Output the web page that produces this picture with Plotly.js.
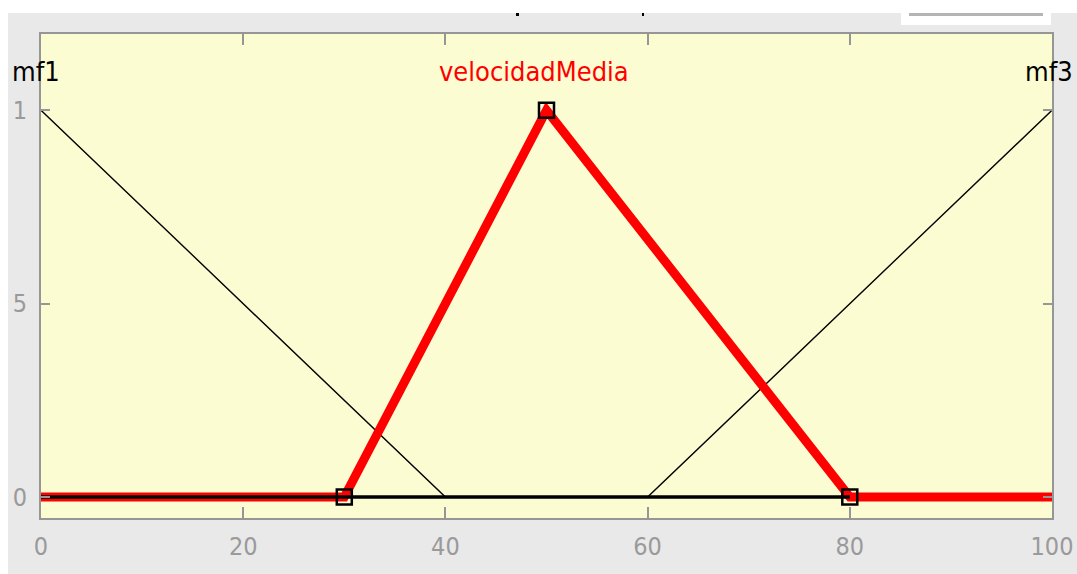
<!DOCTYPE html>
<html>
<head>
<meta charset="utf-8">
<script src="https://cdn.plot.ly/plotly-3.0.1.min.js"></script>
<style>
html,body{margin:0;padding:0;background:#ffffff;}
#chart{width:1077px;height:574px;}
</style>
</head>
<body>
<div id="chart"></div>
<script>
// ---- data ----
var mf1X = [0, 40, 100];
var mf1Y = [1, 0, 0];
var mf2X = [0, 30, 50, 80, 100];
var mf2Y = [0, 0, 1, 0, 0];
var mf3X = [0, 60, 100];
var mf3Y = [0, 0, 1];
var baseX = [0, 80];
var baseY = [0, 0];
var handleX = [30, 50, 80];
var handleY = [0, 1, 0];
var xTickVals = [0, 20, 40, 60, 80, 100];
var xTickText = ["0", "20", "40", "60", "80", "100"];
var yTickVals = [0, 0.5, 1];
var yTickText = ["0", "5", "1"];
var mfNames = ["mf1", "velocidadMedia", "mf3"];
var mfLabelX = [0, 48.8, 100];
var mfLabelY = [1.1, 1.1, 1.1];

// ---- layout helpers ----
var W = 1077, H = 574, L = 41, R = 25, T = 34, B = 56;
function fx(px){ return (px - L) / (W - L - R); }
function fy(py){ return (H - B - py) / (H - T - B); }

var FONT = '"DejaVu Sans Condensed", "Liberation Sans Narrow", "Liberation Sans", sans-serif';

var traces = [
  {x: mf1X, y: mf1Y, mode: 'lines', line: {color: '#000000', width: 1.4}, hoverinfo: 'skip', showlegend: false},
  {x: mf3X, y: mf3Y, mode: 'lines', line: {color: '#000000', width: 1.4}, hoverinfo: 'skip', showlegend: false},
  {x: mf2X, y: mf2Y, mode: 'lines', line: {color: '#ff0000', width: 9}, hoverinfo: 'skip', showlegend: false},
  {x: baseX, y: baseY, mode: 'lines', line: {color: '#000000', width: 3.5}, hoverinfo: 'skip', showlegend: false},
  {x: handleX, y: handleY, mode: 'markers', marker: {symbol: 'square-open', size: 15, color: '#000000', line: {color: '#000000', width: 2.5}}, hoverinfo: 'skip', showlegend: false}
];

var annColors = ['#000000', '#ff0000', '#000000'];
var annShift = [-5, 0, -3];
var annotations = mfNames.map(function(n, i){
  return {x: mfLabelX[i], y: mfLabelY[i], xref: 'x', yref: 'y', text: n, showarrow: false, xshift: annShift[i],
          font: {family: FONT, size: 27, color: annColors[i]}, xanchor: 'center', yanchor: 'middle'};
});

var shapes = [
  // white strips (window edge)
  {type: 'rect', xref: 'paper', yref: 'paper', x0: fx(0), x1: fx(W), y0: fy(13), y1: fy(0), fillcolor: '#ffffff', line: {width: 0}, layer: 'below'},
  {type: 'rect', xref: 'paper', yref: 'paper', x0: fx(0), x1: fx(8), y0: fy(H), y1: fy(0), fillcolor: '#ffffff', line: {width: 0}, layer: 'below'},
  // white box top right
  {type: 'rect', xref: 'paper', yref: 'paper', x0: fx(901), x1: fx(1051), y0: fy(25), y1: fy(13), fillcolor: '#ffffff', line: {width: 0}, layer: 'below'},
  {type: 'rect', xref: 'paper', yref: 'paper', x0: fx(909), x1: fx(1043), y0: fy(16), y1: fy(13), fillcolor: '#b4b4b4', line: {width: 0}, layer: 'below'},
  // small black marks at top
  {type: 'rect', xref: 'paper', yref: 'paper', x0: fx(516), x1: fx(519), y0: fy(16), y1: fy(13), fillcolor: '#000000', line: {width: 0}, layer: 'below'},
  {type: 'rect', xref: 'paper', yref: 'paper', x0: fx(642), x1: fx(644), y0: fy(16), y1: fy(13), fillcolor: '#000000', line: {width: 0}, layer: 'below'}
];

var axisCommon = {
  showgrid: false, zeroline: false, showline: true, linecolor: '#969696', linewidth: 2, mirror: 'ticks',
  ticks: 'inside', tickcolor: '#969696', tickwidth: 2, tickmode: 'array',
  tickfont: {family: FONT, size: 25, color: '#9a9a9a'}, fixedrange: true
};

var layout = {
  width: W, height: H,
  margin: {l: L, r: R, t: T, b: B, pad: 0},
  paper_bgcolor: '#e9e9e9',
  plot_bgcolor: '#fcfcd2',
  showlegend: false,
  xaxis: Object.assign({}, axisCommon, {range: [0, 100], tickvals: xTickVals, ticktext: xTickText, ticklen: 11, ticklabelstandoff: 5}),
  yaxis: Object.assign({}, axisCommon, {range: [-0.054, 1.197], tickvals: yTickVals, ticktext: yTickText, ticklen: 9, ticklabelstandoff: 7}),
  annotations: annotations,
  shapes: shapes
};

Plotly.newPlot('chart', traces, layout, {displayModeBar: false, staticPlot: true});
</script>
</body>
</html>
